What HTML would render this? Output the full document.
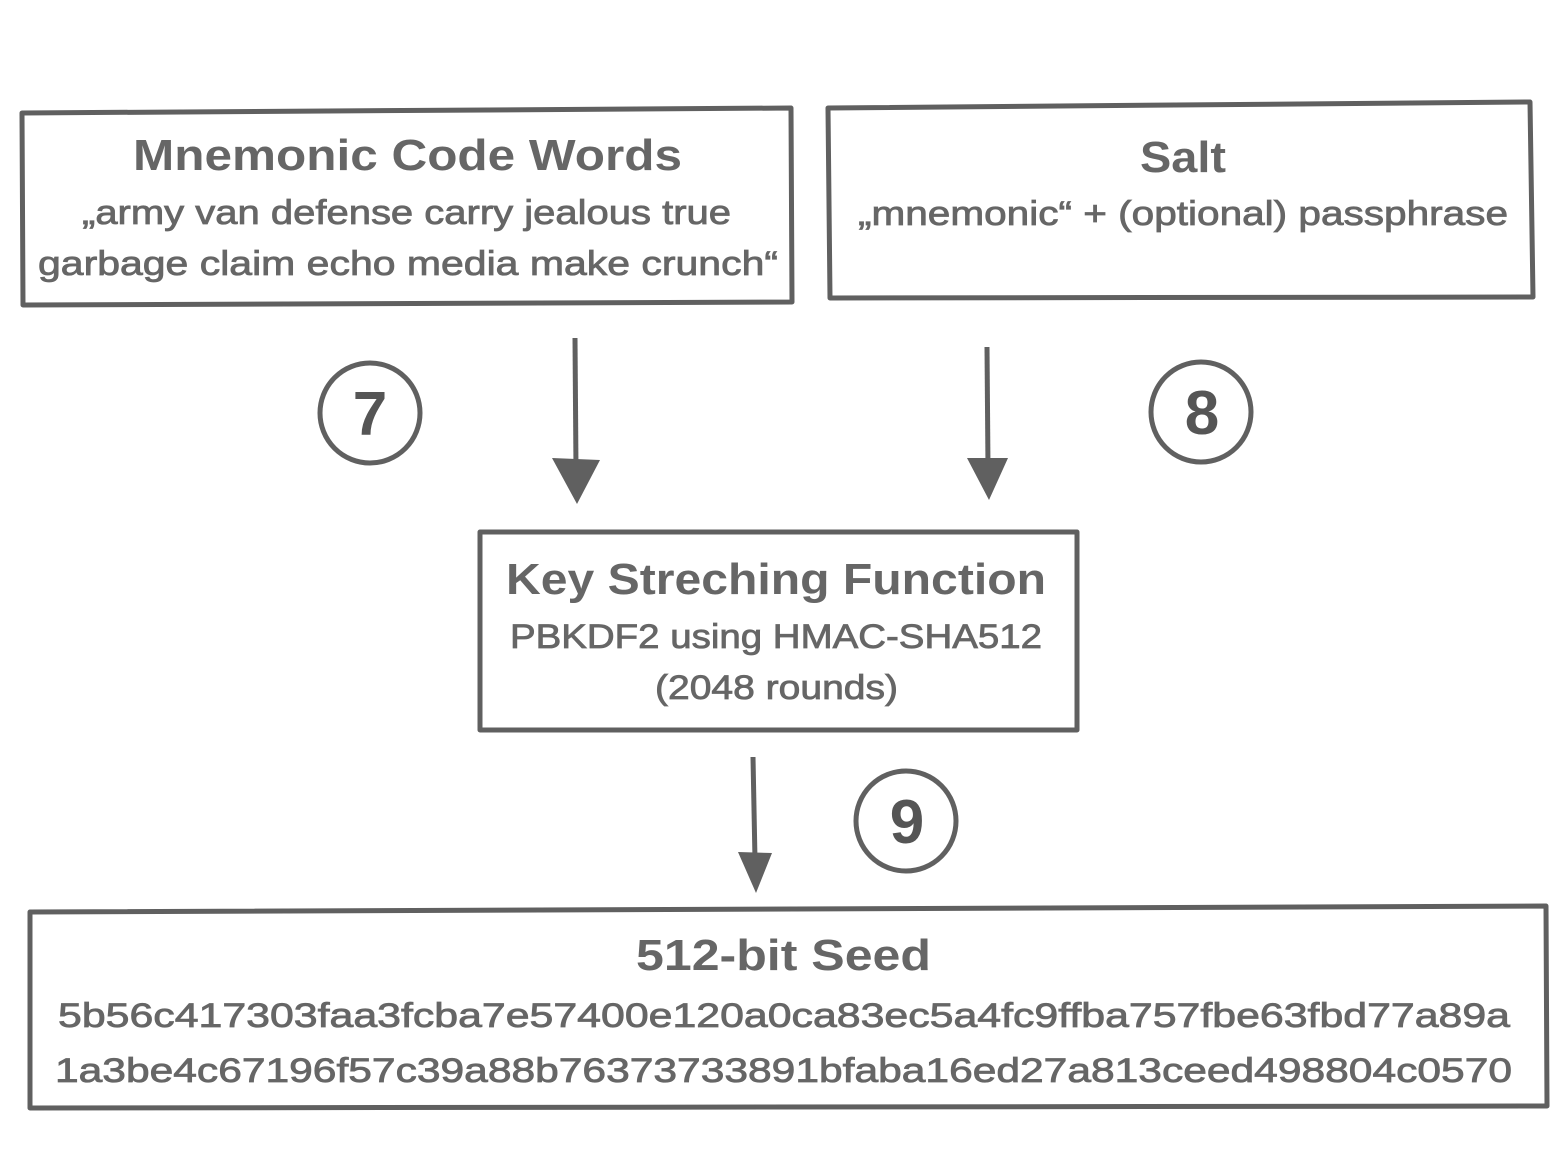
<!DOCTYPE html>
<html><head><meta charset="utf-8"><style>html,body{margin:0;padding:0;background:#fff}svg{display:block}</style></head>
<body>
<svg width="1568" height="1176" viewBox="0 0 1568 1176" xmlns="http://www.w3.org/2000/svg">
<rect width="1568" height="1176" fill="#fff"/>
<g fill="none" stroke="#606060" stroke-width="5" stroke-linejoin="round">
<polygon points="22,113 791,108 792,302 23,305"/>
<polygon points="828,108 1530,102 1533,297 830,298"/>
<polygon points="480,532 1077,532 1077,730 480,730"/>
<polygon points="30,912 1546,906 1547,1106 30,1108"/>
<circle cx="370" cy="413" r="50"/>
<circle cx="1201" cy="412" r="50"/>
<circle cx="906" cy="821" r="50"/>
<line x1="575" y1="338" x2="576" y2="470"/>
<line x1="987" y1="347" x2="988" y2="468"/>
<line x1="753" y1="757" x2="755" y2="860"/>
</g>
<g fill="#606060">
<polygon points="552,458 600,460 577,504"/>
<polygon points="967,458 1008,458 989,500"/>
<polygon points="738,852 772,853 756,893"/>
</g>
<g font-family="Liberation Sans, DejaVu Sans, sans-serif" fill="#666" text-anchor="start">
<g font-weight="bold" font-size="44">
<text x="133" y="170" textLength="549" lengthAdjust="spacingAndGlyphs">Mnemonic Code Words</text>
<text x="1140" y="172" textLength="86" lengthAdjust="spacingAndGlyphs">Salt</text>
<text x="506" y="594" textLength="540" lengthAdjust="spacingAndGlyphs">Key Streching Function</text>
<text x="636" y="970" textLength="295" lengthAdjust="spacingAndGlyphs">512-bit Seed</text>
</g>
<g font-size="34" stroke="#666" stroke-width="0.8">
<text x="82" y="224" textLength="649" lengthAdjust="spacingAndGlyphs">„army van defense carry jealous true</text>
<text x="38" y="275" textLength="740" lengthAdjust="spacingAndGlyphs">garbage claim echo media make crunch“</text>
<text x="858" y="225" textLength="650" lengthAdjust="spacingAndGlyphs">„mnemonic“ + (optional) passphrase</text>
<text x="510" y="648" textLength="532" lengthAdjust="spacingAndGlyphs">PBKDF2 using HMAC-SHA512</text>
<text x="655" y="699" textLength="243" lengthAdjust="spacingAndGlyphs">(2048 rounds)</text>
<text x="58" y="1027" textLength="1452" lengthAdjust="spacingAndGlyphs">5b56c417303faa3fcba7e57400e120a0ca83ec5a4fc9ffba757fbe63fbd77a89a</text>
<text x="55" y="1082" textLength="1457" lengthAdjust="spacingAndGlyphs">1a3be4c67196f57c39a88b76373733891bfaba16ed27a813ceed498804c0570</text>
</g>
<g font-weight="bold" font-size="62" fill="#555" text-anchor="middle">
<text x="370" y="435">7</text>
<text x="1202" y="434">8</text>
<text x="907" y="843">9</text>
</g>
</g>
</svg>
</body></html>
